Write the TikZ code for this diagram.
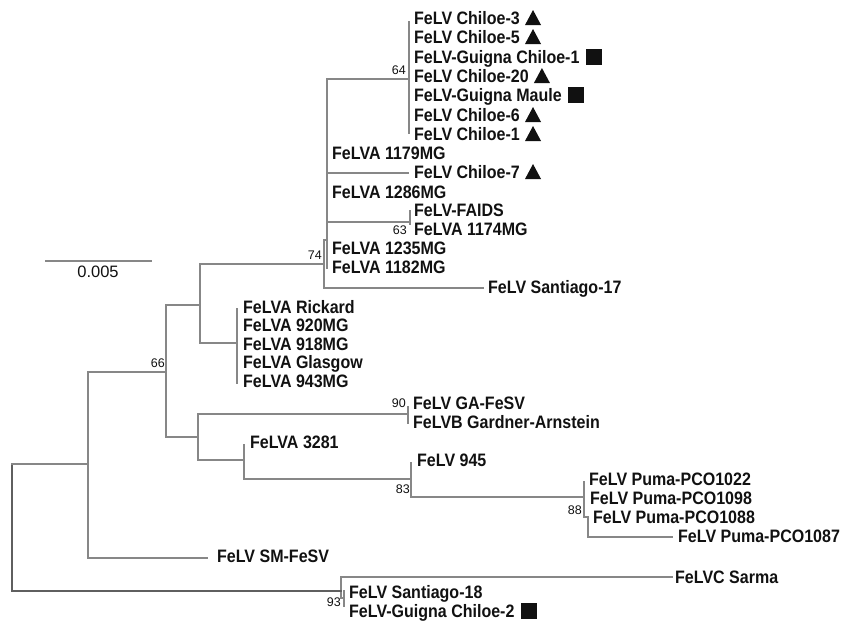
\documentclass[tikz,border=0pt]{standalone}
\usepackage{fontspec}
\setmainfont{Liberation Sans}
\newfontfamily\labfont[FakeStretch=0.89]{Liberation Sans}
\definecolor{branch}{RGB}{135,135,135}
\definecolor{rootbr}{RGB}{95,95,95}
\definecolor{txt}{RGB}{17,17,17}
\newcommand\mktri[1]{\fill[txt] ([xshift=5pt]#1.east) ++(0,7) -- ++(16,0) -- ++(-8,-15) -- cycle;}
\newcommand\mksq[1]{\fill[txt] ([xshift=6pt]#1.east) ++(0,-8) rectangle ++(16,16);}
\begin{document}
\begin{tikzpicture}[x=1pt,y=-1pt,
  br/.style={draw=branch, line width=1.3pt, line cap=rect},
  rbr/.style={draw=rootbr, line width=1.3pt, line cap=rect},
  leaf/.style={anchor=west, inner sep=0pt, text=txt, text height=12.9pt, text depth=0pt,
    font=\labfont\bfseries\fontsize{18}{18}\selectfont},
  boot/.style={anchor=east, inner sep=0pt, text=txt, text height=9pt, text depth=0pt,
    font=\fontsize{12.5}{12.5}\selectfont},
  scl/.style={anchor=center, inner sep=0pt, text=txt, text height=12pt, text depth=0pt,
    font=\fontsize{16.5}{16.5}\selectfont}]
\useasboundingbox (0,0) rectangle (844,624);

% ---- internal nodes: connection point, top and bottom of vertical ----
\coordinate (R-t) at (12,464); \coordinate (R-b) at (12,591);
\coordinate (A) at (88,464);  \coordinate (A-t) at (88,372);  \coordinate (A-b) at (88,558);
\coordinate (B) at (166,372); \coordinate (B-t) at (166,305); \coordinate (B-b) at (166,437);
\coordinate (C) at (200,305); \coordinate (C-t) at (200,264); \coordinate (C-b) at (200,343);
\coordinate (D) at (324,264); \coordinate (D-t) at (324,240); \coordinate (D-b) at (324,288);
\coordinate (E) at (327,240); \coordinate (E-t) at (327,79);  \coordinate (E-b) at (327,268);
\coordinate (F) at (409,79);  \coordinate (F-t) at (409,22);  \coordinate (F-b) at (409,133);
\coordinate (G) at (410,222); \coordinate (G-t) at (410,211); \coordinate (G-b) at (410,224);
\coordinate (H) at (237,343); \coordinate (H-t) at (237,309); \coordinate (H-b) at (237,383);
\coordinate (I) at (198,437); \coordinate (I-t) at (198,414); \coordinate (I-b) at (198,460);
\coordinate (J) at (408,414); \coordinate (J-t) at (408,407); \coordinate (J-b) at (408,423);
\coordinate (K) at (244,460); \coordinate (K-t) at (244,445); \coordinate (K-b) at (244,479);
\coordinate (L) at (411,479); \coordinate (L-t) at (411,463); \coordinate (L-b) at (411,497);
\coordinate (M) at (584,497); \coordinate (M-t) at (584,482); \coordinate (M-b) at (584,517);
\coordinate (N) at (588,517); \coordinate (N-t) at (588,517); \coordinate (N-b) at (588,537);
\coordinate (P) at (341,591); \coordinate (P-t) at (341,577); \coordinate (P-b) at (341,598);
\coordinate (Q) at (344,598); \coordinate (Q-t) at (344,591); \coordinate (Q-b) at (344,606);
% ---- branch tips ----
\coordinate (t7)   at (408,173);
\coordinate (tS17) at (483,288);
\coordinate (tSM)  at (207,558);
\coordinate (tP87) at (672,537);
\coordinate (tSar) at (672,577);
% ---- scale bar ends ----
\coordinate (s1) at (46,261); \coordinate (s2) at (151,261);

% ---- verticals ----
\draw[rbr] (R-t) -- (R-b);
\foreach \n in {A,B,C,D,E,F,G,H,I,J,K,L,M,N,P,Q} \draw[br] (\n-t) -- (\n-b);

% ---- horizontals ----
\draw[br] (R-t |- A) -- (A);
\draw[rbr] (R-t |- P) -- (P);
\draw[br] (A-t |- B) -- (B);
\draw[br] (A-t |- tSM) -- (tSM);
\draw[br] (B-t |- C) -- (C);
\draw[br] (B-t |- I) -- (I);
\draw[br] (C-t |- D) -- (D);
\draw[br] (C-t |- H) -- (H);
\draw[br] (D-t |- E) -- (E);
\draw[br] (D-t |- tS17) -- (tS17);
\draw[br] (E-t |- F) -- (F);
\draw[br] (E-t |- t7) -- (t7);
\draw[br] (E-t |- G) -- (G);
\draw[br] (I-t |- J) -- (J);
\draw[br] (I-t |- K) -- (K);
\draw[br] (K-t |- L) -- (L);
\draw[br] (L-t |- M) -- (M);
\draw[br] (M-t |- N) -- (N);
\draw[br] (N-t |- tP87) -- (tP87);
\draw[br] (P-t |- tSar) -- (tSar);
\draw[br] (P-t |- Q) -- (Q);
\draw[br] (s1) -- (s2);

% ---- leaf labels ----
\node[leaf] (l1)  at (414,18)  {FeLV Chiloe-3};
\node[leaf] (l2)  at (414,37)  {FeLV Chiloe-5};
\node[leaf] (l3)  at (414,57)  {FeLV-Guigna Chiloe-1};
\node[leaf] (l4)  at (414,76)  {FeLV Chiloe-20};
\node[leaf] (l5)  at (414,95)  {FeLV-Guigna Maule};
\node[leaf] (l6)  at (414,115) {FeLV Chiloe-6};
\node[leaf] (l7)  at (414,134) {FeLV Chiloe-1};
\node[leaf] (l8)  at (332,153) {FeLVA 1179MG};
\node[leaf] (l9)  at (414,172) {FeLV Chiloe-7};
\node[leaf] (l10) at (332,192) {FeLVA 1286MG};
\node[leaf] (l11) at (414,210) {FeLV-FAIDS};
\node[leaf] (l12) at (414,229) {FeLVA 1174MG};
\node[leaf] (l13) at (332,248) {FeLVA 1235MG};
\node[leaf] (l14) at (332,267) {FeLVA 1182MG};
\node[leaf] (l15) at (488,287) {FeLV Santiago-17};
\node[leaf] (l16) at (243,307) {FeLVA Rickard};
\node[leaf] (l17) at (243,325.5) {FeLVA 920MG};
\node[leaf] (l18) at (243,344) {FeLVA 918MG};
\node[leaf] (l19) at (243,362.5) {FeLVA Glasgow};
\node[leaf] (l20) at (243,381) {FeLVA 943MG};
\node[leaf] (l21) at (413,403) {FeLV GA-FeSV};
\node[leaf] (l22) at (413,422) {FeLVB Gardner-Arnstein};
\node[leaf] (l23) at (250,442) {FeLVA 3281};
\node[leaf] (l24) at (417,460) {FeLV 945};
\node[leaf] (l25) at (589,479) {FeLV Puma-PCO1022};
\node[leaf] (l26) at (590,498) {FeLV Puma-PCO1098};
\node[leaf] (l27) at (593,517) {FeLV Puma-PCO1088};
\node[leaf] (l28) at (678,536) {FeLV Puma-PCO1087};
\node[leaf] (l29) at (217,556) {FeLV SM-FeSV};
\node[leaf] (l30) at (675,577) {FeLVC Sarma};
\node[leaf] (l31) at (349,592.5) {FeLV Santiago-18};
\node[leaf] (l32) at (349,611) {FeLV-Guigna Chiloe-2};

% ---- markers ----
\mktri{l1} \mktri{l2} \mksq{l3} \mktri{l4} \mksq{l5} \mktri{l6} \mktri{l7} \mktri{l9}
\mksq{l32}

% ---- bootstrap values ----
\node[boot] (b64) at (406,69.5) {64};
\node[boot] (b74) at (322,255)  {74};
\node[boot] (b63) at (407,230)  {63};
\node[boot] (b66) at (165,363)  {66};
\node[boot] (b90) at (406,403)  {90};
\node[boot] (b83) at (410,489)  {83};
\node[boot] (b88) at (582,510)  {88};
\node[boot] (b93) at (341,602)  {93};

% ---- scale ----
\node[scl] (sl) at (98,271) {0.005};
\end{tikzpicture}
\end{document}
